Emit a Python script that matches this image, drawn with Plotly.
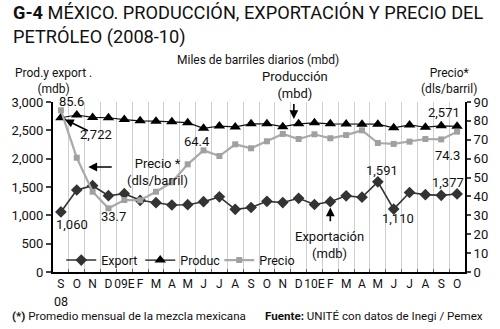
import plotly.graph_objects as go

# Monthly series, Sep 2008 - Oct 2010
months = ["S", "O", "N", "D", "09E", "F", "M", "A", "M", "J", "J", "A", "S",
          "O", "N", "D", "10E", "F", "M", "A", "M", "J", "J", "A", "S", "O"]
export_mbd = [1060, 1447, 1523, 1347, 1382, 1265, 1223, 1182, 1188, 1241, 1326, 1106, 1138,
              1247, 1226, 1300, 1191, 1241, 1344, 1320, 1591, 1110, 1403, 1365, 1353, 1377]
produc_mbd = [2722, 2770, 2728, 2722, 2690, 2668, 2662, 2652, 2635, 2535, 2576, 2560, 2615,
              2615, 2565, 2615, 2632, 2615, 2610, 2608, 2608, 2545, 2595, 2555, 2580, 2571]
precio_usd = [85.6, 60.5, 42.5, 33.7, 38.1, 38.0, 42.5, 47.5, 57.0, 64.4, 61.4, 67.6, 65.5,
              69.2, 73.1, 70.4, 72.9, 70.8, 72.5, 75.0, 68.3, 67.8, 69.0, 70.4, 70.2, 74.3]
left_ticks = [0, 500, 1000, 1500, 2000, 2500, 3000]
right_ticks = [0, 10, 20, 30, 40, 50, 60, 70, 80, 90]

FONT = "Roboto, Liberation Sans, sans-serif"
W, H = 500, 329
L, R, T, B = 45, 25, 102, 57
x_idx = list(range(len(months)))


def px(x):
    return (x - L) / (W - L - R)


def py(y):
    return (H - B - y) / (H - T - B)


fig = go.Figure()
fig.add_trace(go.Scatter(
    x=x_idx, y=export_mbd, name="Export", mode="lines+markers",
    line=dict(color="#333333", width=1.6),
    marker=dict(symbol="diamond", size=9, color="#333333"),
))
fig.add_trace(go.Scatter(
    x=x_idx, y=produc_mbd, name="Produc", mode="lines+markers",
    line=dict(color="#111111", width=1.2),
    marker=dict(symbol="triangle-up", size=10, color="#000000"),
))
fig.add_trace(go.Scatter(
    x=x_idx, y=precio_usd, name="Precio", mode="lines+markers", yaxis="y2",
    line=dict(color="#aaaaaa", width=2.2),
    marker=dict(symbol="square", size=6, color="#a0a0a0"),
))

ann = []


def text(x, y, s, size=12, xanchor="center", yanchor="middle", xref="paper", yref="paper",
         align="center"):
    ann.append(dict(x=x, y=y, xref=xref, yref=yref, text=s, showarrow=False,
                    xanchor=xanchor, yanchor=yanchor, align=align,
                    font=dict(family=FONT, size=size, color="#111111")))


# title and header texts
text(px(1), py(0), "<b>G-4</b> MÉXICO. PRODUCCIÓN, EXPORTACIÓN Y PRECIO DEL<br>PETRÓLEO (2008-10)",
     size=18.2, xanchor="left", yanchor="top", align="left")
text(px(259), py(60), "Miles de barriles diarios (mbd)", size=12)
text(px(45), py(81), "Prod.y export .<br>(mdb)", size=12)
text(px(458), py(81), "Precio*<br>(dls/barril)", size=12)

# value labels (data x, pixel-based y for those near the top edge)
text(0.65, py(101), "85.6", size=13, xref="x")
text(2.2, 2435, "2,722", size=13, xref="x", yref="y")
text(3.3, 29.2, "33.7", size=13, xref="x", yref="y2")
text(0.7, 847, "1,060", size=13, xref="x", yref="y")
text(8.6, 69.3, "64.4", size=13, xref="x", yref="y2")
text(20.25, 1800, "1,591", size=13, xref="x", yref="y")
text(21.26, 953, "1,110", size=13, xref="x", yref="y")
text(24.2, 2823, "2,571", size=13, xref="x", yref="y")
text(24.4, 61.9, "74.3", size=13, xref="x", yref="y2")
text(24.4, 1588, "1,377", size=13, xref="x", yref="y")

# descriptive callouts
text(6.1, 1765, "Precio *<br>(dls/barril)", size=13, xref="x", yref="y")
text(14.75, py(85), "Producción<br>(mbd)", size=13, xref="x")
text(16.95, 476, "Exportación<br>(mdb)", size=13, xref="x", yref="y")

arrow = dict(showarrow=True, arrowhead=2, arrowsize=1.1, arrowwidth=1.6,
             arrowcolor="#000000", text="", axref="x", ayref="y", xref="x", yref="y")
ann.append(dict(arrow, x=0.25, y=2690, ax=1.8, ay=2480))
ann.append(dict(arrow, x=1.73, y=1853, ax=3.3, ay=1853))
ann.append(dict(arrow, x=14.7, y=2700, ax=14.7, ay=2990))
ann.append(dict(arrow, x=17.0, y=1140, ax=17.0, ay=870))

# footnotes
text(px(0), py(316), "<b>(*)</b> Promedio mensual de la mezcla mexicana", size=11.6,
     xanchor="left")
text(px(496), py(316), "<b>Fuente:</b> UNITÉ con datos de Inegi / Pemex", size=11.6,
     xanchor="right")
text(0, py(301), "08", size=12.5, xref="x")

fig.update_layout(
    width=W, height=H,
    margin=dict(l=L, r=R, t=T, b=B, pad=0),
    paper_bgcolor="white", plot_bgcolor="white",
    font=dict(family=FONT, size=13, color="#111111"),
    showlegend=True,
    legend=dict(orientation="h", x=0.02, y=-0.02, xanchor="left", yanchor="bottom",
                bgcolor="rgba(255,255,255,0)", font=dict(family=FONT, size=12.5),
                itemwidth=30, tracegroupgap=0, entrywidth=34, entrywidthmode="pixels"),
    xaxis=dict(range=[-0.5, 25.5], tickmode="array", tickvals=x_idx, ticktext=months,
               tickangle=0, showgrid=False, zeroline=False, showline=True,
               linecolor="#000000", linewidth=2, ticks="", ticklen=0,
               minor=dict(tickvals=[i + 0.5 for i in range(25)], showgrid=True,
                          gridcolor="#cfcfcf", gridwidth=1, ticks="inside",
                          ticklen=3, tickcolor="#666666"),
               tickfont=dict(family=FONT, size=12)),
    yaxis=dict(range=[0, 3000], tickmode="array", tickvals=left_ticks, tickformat=",",
               showgrid=False, zeroline=False, showline=True, linecolor="#000000",
               linewidth=2, ticks="outside", ticklen=5, tickwidth=1.5,
               tickfont=dict(family=FONT, size=13)),
    yaxis2=dict(range=[0, 90], overlaying="y", side="right", tickmode="array",
                tickvals=right_ticks, showgrid=False, zeroline=False, showline=True,
                linecolor="#000000", linewidth=2, ticks="outside", ticklen=4,
                tickwidth=1.5, tickfont=dict(family=FONT, size=13)),
    annotations=ann,
)

fig.write_html("out.html")
